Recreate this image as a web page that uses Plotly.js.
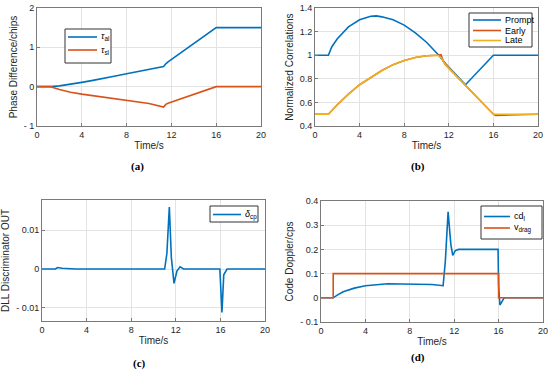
<!DOCTYPE html>
<html><head><meta charset="utf-8">
<script src="https://cdn.plot.ly/plotly-3.0.1.min.js"></script>
<style>body{margin:0;background:#fff}</style>
</head><body><div id="chart" style="width:550px;height:371px"></div>
<script>
// (a) phase difference
const tA = [0, 1.2, 2, 3, 4, 5, 6, 7, 8, 9, 10, 11.3, 11.5, 11.7, 16, 20];
const tauAl = [0, 0, 0.02, 0.06, 0.11, 0.16, 0.21, 0.27, 0.33, 0.38, 0.43, 0.51, 0.58, 0.63, 1.5, 1.5];
const tauSl = [0, 0, -0.07, -0.14, -0.19, -0.23, -0.27, -0.31, -0.35, -0.39, -0.43, -0.52, -0.45, -0.42, 0, 0];
// (b) normalized correlations
const tP = [0, 1.2, 1.5, 2, 3, 4, 5, 5.5, 6, 7, 8, 9, 10, 11, 11.7, 13.5, 16, 20];
const prompt = [1, 1, 1.07, 1.14, 1.24, 1.30, 1.33, 1.333, 1.325, 1.30, 1.255, 1.19, 1.11, 1.01, 0.93, 0.75, 1, 1];
const tEL = [0, 1.2, 2, 3, 4, 5, 6, 7, 8, 9, 10, 11, 11.3, 11.5, 11.7, 16, 16.2, 20];
const early = [0.5, 0.5, 0.58, 0.67, 0.75, 0.81, 0.87, 0.92, 0.955, 0.98, 0.995, 1.0, 1.005, 0.95, 0.92, 0.5, 0.49, 0.5];
const late = [0.5, 0.5, 0.58, 0.67, 0.75, 0.81, 0.87, 0.92, 0.955, 0.98, 0.995, 1.0, 0.98, 0.95, 0.92, 0.5, 0.5, 0.5];
// (c) DLL discriminator
const tC = [0, 1.2, 1.4, 1.8, 3, 11.0, 11.2, 11.42, 11.6, 11.84, 12.1, 12.38, 12.7, 15.95, 16.14, 16.3, 16.6, 20];
const dcp = [0, 0, 0.0004, 0.0002, 0, 0, 0.004, 0.016, 0.003, -0.0037, -0.0005, 0.0006, 0, 0, -0.0112, -0.0015, 0, 0];
// (d) code Doppler
const tD = [0, 1.1, 1.5, 2, 3, 4, 6, 8, 10, 11.0, 11.2, 11.45, 11.7, 11.87, 12.1, 12.4, 13, 15.95, 16.0, 16.12, 16.5, 20];
const cdl = [0, 0, 0.012, 0.025, 0.04, 0.05, 0.058, 0.058, 0.055, 0.05, 0.15, 0.355, 0.22, 0.175, 0.195, 0.2, 0.2, 0.2, 0.05, -0.03, 0, 0];
const tV = [0, 1.1, 1.1, 16, 16, 20];
const vdrag = [0, 0, 0.1, 0.1, 0, 0];

const xTicks = [0, 4, 8, 12, 16, 20];
const ticksA = [-1, 0, 1, 2], ticktextA = ['- 1', '0', '1', '2'];
const ticksB = [0.4, 0.6, 0.8, 1, 1.2, 1.4], ticktextB = ['0.4', '0.6', '0.8', '1', '1.2', '1.4'];
const ticksC = [-0.01, 0, 0.01], ticktextC = ['- 0.01', '0', '0.01'];
const ticksD = [-0.1, 0, 0.1, 0.2, 0.3, 0.4], ticktextD = ['- 0.1', '0', '0.1', '0.2', '0.3', '0.4'];
const namesA = ['<i>τ</i><sub>al</sub>', '<i>τ</i><sub>sl</sub>'];
const namesB = ['Prompt', 'Early', 'Late'];
const namesC = ['<i>δ</i><sub>cp</sub>'];
const namesD = ['cd<sub>l</sub>', 'v<sub>drag</sub>'];

const BLUE = '#0072BD', RED = '#D95319', YEL = '#EDB120';
const W = 550, H = 371;
const px = v => v / W, py = v => 1 - v / H;
const fx = (a, b) => [a / W, b / W];
const fy = (top, bot) => [1 - bot / H, 1 - top / H];
const tickFont = {family: 'Liberation Sans, Arial', size: 9, color: '#262626'};
const titleFont = {family: 'Liberation Sans, Arial', size: 10, color: '#262626'};

function xax(dom, anchor) {
  return {domain: dom, anchor: anchor, range: [0, 20], tickvals: xTicks, ticktext: xTicks.map(String),
    showgrid: true, gridcolor: '#e3e3e3', zeroline: false, showline: true, mirror: true, linecolor: '#7a7a7a',
    linewidth: 1, ticks: 'inside', ticklen: 3, tickcolor: '#7a7a7a', tickfont: tickFont,
    title: {text: 'Time/s', font: titleFont, standoff: 3}};
}
function yax(dom, anchor, range, tv, tt, title) {
  return {domain: dom, anchor: anchor, range: range, tickvals: tv, ticktext: tt,
    showgrid: true, gridcolor: '#e3e3e3', zeroline: false, showline: true, mirror: true, linecolor: '#7a7a7a',
    linewidth: 1, ticks: 'inside', ticklen: 3, tickcolor: '#7a7a7a', tickfont: tickFont,
    title: {text: title, font: titleFont, standoff: 4}};
}
const ln = (c) => ({color: c, width: 1.6});
const traces = [
  {x: tA, y: tauAl, xaxis: 'x', yaxis: 'y', mode: 'lines', line: ln(BLUE), name: namesA[0]},
  {x: tA, y: tauSl, xaxis: 'x', yaxis: 'y', mode: 'lines', line: ln(RED), name: namesA[1]},
  {x: tP, y: prompt, xaxis: 'x2', yaxis: 'y2', mode: 'lines', line: ln(BLUE), name: namesB[0]},
  {x: tEL, y: early, xaxis: 'x2', yaxis: 'y2', mode: 'lines', line: ln(RED), name: namesB[1]},
  {x: tEL, y: late, xaxis: 'x2', yaxis: 'y2', mode: 'lines', line: ln(YEL), name: namesB[2]},
  {x: tC, y: dcp, xaxis: 'x3', yaxis: 'y3', mode: 'lines', line: ln(BLUE), name: namesC[0]},
  {x: tD, y: cdl, xaxis: 'x4', yaxis: 'y4', mode: 'lines', line: ln(BLUE), name: namesD[0]},
  {x: tV, y: vdrag, xaxis: 'x4', yaxis: 'y4', mode: 'lines', line: ln(RED), name: namesD[1]}
];

// hand-drawn legend boxes (paper pixels)
const shapes = [], annotations = [];
function legend(box, x0, x1, ys, names, colors) {
  shapes.push({type: 'rect', xref: 'paper', yref: 'paper', x0: px(box[0]), x1: px(box[1]), y0: py(box[3]), y1: py(box[2]),
    fillcolor: '#fff', line: {color: '#333', width: 1}, layer: 'above'});
  names.forEach((n, i) => {
    shapes.push({type: 'line', xref: 'paper', yref: 'paper', x0: px(x0), x1: px(x1), y0: py(ys[i]), y1: py(ys[i]),
      line: {color: colors[i], width: 1.6}, layer: 'above'});
    annotations.push({text: n, xref: 'paper', yref: 'paper', x: px(x1 + 2), y: py(ys[i]), xanchor: 'left', yanchor: 'middle',
      showarrow: false, font: {family: 'Liberation Sans, Arial', size: 9, color: '#000'}});
  });
}
legend([65, 111, 29, 63], 68, 97, [37, 50], namesA, [BLUE, RED]);
legend([469, 532, 13, 47], 473, 501, [20, 30.5, 40.5], namesB, [BLUE, RED, YEL]);
legend([210, 258, 206, 222], 213, 241, [214.5], namesC, [BLUE]);
legend([481, 542, 206, 239], 484, 510, [216.5, 228], namesD, [BLUE, RED]);

const cap = (text, x, y) => ({text: text, x: px(x), y: py(y), xref: 'paper', yref: 'paper', showarrow: false,
  xanchor: 'center', yanchor: 'middle',
  font: {family: 'Liberation Serif, Times New Roman', size: 11, color: '#000', weight: 'bold'}});
annotations.push(cap('(a)', 137, 166), cap('(b)', 418, 166), cap('(c)', 140, 363), cap('(d)', 418, 357));

const layout = {
  width: W, height: H, margin: {l: 0, r: 0, t: 0, b: 0}, paper_bgcolor: '#fff', plot_bgcolor: '#fff', showlegend: false,
  xaxis: xax(fx(37, 261), 'y'), yaxis: yax(fy(8, 126), 'x', [-1, 2], ticksA, ticktextA, 'Phase Difference/chips'),
  xaxis2: xax(fx(315, 538), 'y2'), yaxis2: yax(fy(8, 126), 'x2', [0.4, 1.4], ticksB, ticktextB, 'Normalized Correlations'),
  xaxis3: xax(fx(42, 265), 'y3'), yaxis3: yax(fy(200, 321), 'x3', [-0.0134, 0.0178], ticksC, ticktextC, 'DLL Discriminator OUT'),
  xaxis4: xax(fx(321, 543), 'y4'), yaxis4: yax(fy(201, 322), 'x4', [-0.1, 0.4], ticksD, ticktextD, 'Code Doppler/cps'),
  shapes: shapes, annotations: annotations
};
Plotly.newPlot('chart', traces, layout, {staticPlot: true});
</script></body></html>
